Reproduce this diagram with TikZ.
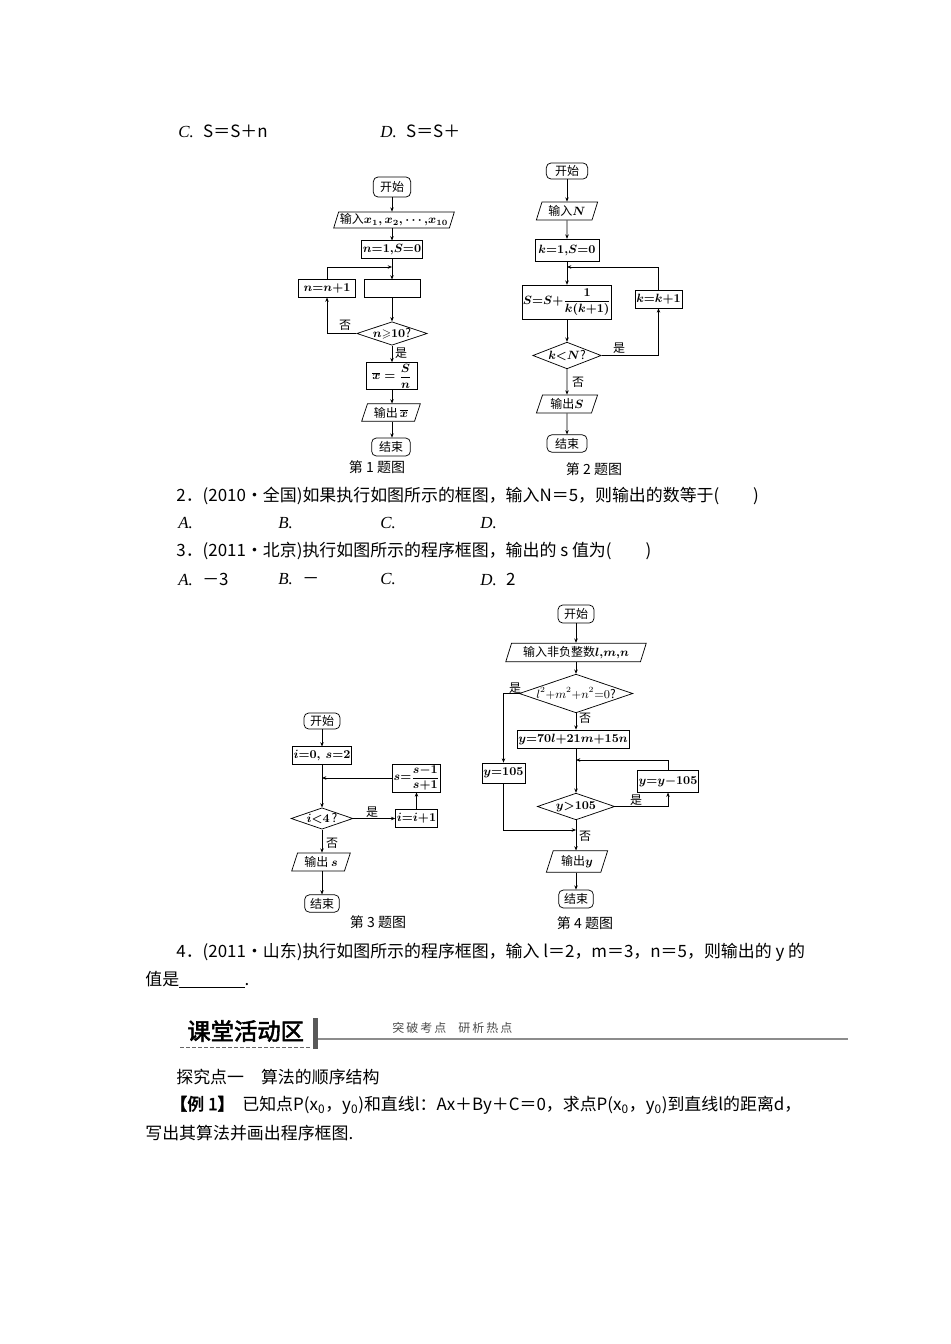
\documentclass[tikz,border=0pt]{standalone}
\usepackage{amsmath, amssymb}
\usepackage{fontspec}
\setmainfont{Liberation Serif}
\newfontfamily\cjk{Noto Sans CJK SC}
\newfontfamily\cjkheavy{Noto Sans CJK SC}[FakeBold=2.5]
\newfontfamily\lat{Liberation Serif}
\usetikzlibrary{shapes.geometric, arrows.meta, calc}
\newcommand{\bodyfont}{\cjk\fontsize{12.7}{15}\selectfont}
\newcommand{\flowfont}{\cjk\fontsize{9}{10}\selectfont\boldmath}
\newcommand{\opt}[1]{{\lat\itshape #1}}

\begin{document}
\begin{tikzpicture}[x=0.75pt, y=-0.75pt, >={Stealth[length=3.2pt,width=2.6pt]}, line width=0.55pt,
    every node/.style={inner sep=1pt, font=\flowfont},
    wh/.style 2 args={minimum width=#1pt, minimum height=#2pt},
    term/.style={draw, rounded corners=3.5pt},
    proc/.style={draw},
    io/.style={draw, trapezium, trapezium left angle=72, trapezium right angle=108, trapezium stretches=true},
    cond/.style={draw, diamond, aspect=3, inner sep=0pt},
    txt/.style={anchor=west, inner sep=0pt, font=\bodyfont},
    figcap/.style={font=\cjk\fontsize{10.5}{12}\selectfont}]
  \useasboundingbox (0,0) rectangle (950,1344);

  % options of question 1
  \node[txt] (optC) at (178,131) {\opt{C.}\hspace{7pt}S＝S＋n};
  \node[txt] (optD) at (380,131) {\opt{D.}\hspace{7pt}S＝S＋};

  % chart 1
  \node[term, wh={28}{15}] (c1start) at (392,187) {开始};
  \node[io, wh={88}{12}] (c1in) at (394,220) {输入$x_1{,}\,x_2{,}\cdots{,}x_{10}$};
  \node[proc, wh={41}{13}] (c1init) at (392,249.5) {$n{=}1{,}S{=}0$};
  \node[proc, wh={43}{13}] (c1inc) at (327,288.5) {$n{=}n{+}1$};
  \node[proc, wh={42}{13}] (c1body) at (392,288.5) {};
  \node[cond, wh={48}{14}] (c1dec) at (392,333.5) {$n{\geqslant}10$?};
  \node[proc, wh={38}{19.5}] (c1mean) at (392,376) {$\overline{x}=\dfrac{S}{n}$};
  \node[io, wh={44}{13}] (c1out) at (391,412.5) {输出\,$\overline{x}$};
  \node[term, wh={29}{13.5}] (c1end) at (391,447) {结束};
  \coordinate (c1join) at (392,267);
  \node (c1no) at (345,325) {否};
  \node (c1yes) at (401,353) {是};
  \foreach \a/\b in {c1start/c1in, c1in/c1init, c1init/c1body, c1body/c1dec,
      c1dec/c1mean, c1mean/c1out, c1out/c1end}
    \draw[->] (\a.south -| c1init) -- (\b.north -| c1init);
  \draw[->] (c1dec.west) -| (c1inc.south);
  \draw[->] (c1inc.north) |- (c1join);
  \node[figcap] (cap1) at (377,467) {第 1 题图};

  % chart 2
  \node[term, wh={31}{12}] (c2start) at (567,171) {开始};
  \node[io, wh={46}{13.5}] (c2in) at (567,211) {输入$N$};
  \node[proc, wh={48}{17}] (c2init) at (567,250.5) {$k{=}1{,}S{=}0$};
  \node[proc, wh={61}{26}, inner xsep=0.5pt] (c2sum) at (567,302.5) {$S{=}S{+}\dfrac{1}{k(k{+}1)}$};
  \node[proc, wh={35}{13.5}] (c2inc) at (658.5,299) {$k{=}k{+}1$};
  \node[cond, wh={48}{20}] (c2dec) at (567,355.5) {$k{<}N$?};
  \node[io, wh={46}{13.5}] (c2out) at (567,404) {输出$S$};
  \node[term, wh={30}{13}] (c2end) at (567,443.5) {结束};
  \coordinate (c2join) at (567,267);
  \node (c2yes) at (619,348) {是};
  \node (c2no) at (578,382) {否};
  \foreach \a/\b in {c2start/c2in, c2in/c2init, c2init/c2sum, c2sum/c2dec,
      c2dec/c2out, c2out/c2end}
    \draw[->] (\a) -- (\b);
  \draw[->] (c2dec.east) -| (c2inc.south);
  \draw[->] (c2inc.north) |- (c2join);
  \node[figcap] (cap2) at (594,469) {第 2 题图};

  % question texts
  \node[txt] (q2) at (176,496) {2．(2010·全国)如果执行如图所示的框图，输入N＝5，则输出的数等于(\hspace{2em})};
  \node[txt] (q2a) at (178,523) {\opt{A.}};
  \node[txt] (q2b) at (278,523) {\opt{B.}};
  \node[txt] (q2c) at (380,523) {\opt{C.}};
  \node[txt] (q2d) at (480,523) {\opt{D.}};
  \node[txt] (q3) at (176,551) {3．(2011·北京)执行如图所示的程序框图，输出的 s 值为(\hspace{2em})};
  \node[txt] (q3a) at (178,579) {\opt{A.}\hspace{7pt}－3};
  \node[txt] (q3b) at (278,579) {\opt{B.}\hspace{7pt}－};
  \node[txt] (q3c) at (380,579) {\opt{C.}};
  \node[txt] (q3d) at (480,579) {\opt{D.}\hspace{7pt}2};

  % chart 3
  \node[term, wh={27}{12}] (c3start) at (322,721) {开始};
  \node[proc, wh={42}{13}] (c3init) at (322,755.5) {$i{=}0,\ s{=}2$};
  \node[proc, wh={33}{21}] (c3upd) at (416.5,778) {$s{=}\dfrac{s{-}1}{s{+}1}$};
  \node[cond, wh={43.5}{16}] (c3dec) at (322,818.5) {$i{<}4$\,?};
  \node[proc, wh={30}{14}] (c3inc) at (416.5,818.5) {$i{=}i{+}1$};
  \node[io, wh={44}{13.5}] (c3out) at (321,862) {输出\ $s$};
  \node[term, wh={26}{13}] (c3end) at (322,903.5) {结束};
  \coordinate (c3join) at (322,778);
  \node (c3yes) at (372,812) {是};
  \node (c3no) at (332,843) {否};
  \foreach \a/\b in {c3start/c3init, c3init/c3dec, c3dec/c3out, c3out/c3end}
    \draw[->] (\a.south -| c3init) -- (\b.north -| c3init);
  \draw[->] (c3dec) -- (c3inc);
  \draw[->] (c3inc) -- (c3upd);
  \draw[->] (c3upd.west) -- (c3join);
  \node[figcap] (cap3) at (378,922) {第 3 题图};

  % chart 4
  \node[term, wh={27}{13.5}] (c4start) at (576,614) {开始};
  \node[io, wh={106}{14}] (c4in) at (576,652.5) {输入非负整数$l{,}m{,}n$};
  \node[cond, wh={80}{29}, font=\cjk\fontsize{9}{10}\selectfont] (c4zero) at (576,693.5) {$l^2{+}m^2{+}n^2{=}0$?};
  \node[proc, wh={70.5}{13.5}] (c4calc) at (573,739) {$y{=}70l{+}21m{+}15n$};
  \node[proc, wh={32}{15}] (c4set) at (503.5,773) {$y{=}105$};
  \node[proc, wh={43.5}{16}] (c4sub) at (668,781.5) {$y{=}y{-}105$};
  \node[cond, wh={58}{20}] (c4big) at (576,806.5) {$y{>}105$};
  \node[io, wh={46}{16}] (c4out) at (577,861.5) {输出$y$};
  \node[term, wh={26}{13.5}] (c4end) at (576,899) {结束};
  \coordinate (c4loop) at (576,760);
  \coordinate (c4merge) at (576,830);
  \node (c4yes) at (515,688) {是};
  \node (c4no) at (585,718) {否};
  \node (c4yes2) at (636,800) {是};
  \node (c4no2) at (585,836) {否};
  \foreach \a/\b in {c4start/c4in, c4in/c4zero, c4zero/c4calc, c4calc/c4big,
      c4big/c4out, c4out/c4end}
    \draw[->] (\a.south -| c4start) -- (\b.north -| c4start);
  \draw[->] (c4zero.west) -| (c4set.north);
  \draw[->] (c4big.east) -| (c4sub.south);
  \draw[->] (c4sub.north) |- (c4loop);
  \draw[->] (c4set.south) |- (c4merge);
  \node[figcap] (cap4) at (585,923) {第 4 题图};

  % question 4
  \node[txt] (q4) at (176,952) {4．(2011·山东)执行如图所示的程序框图，输入 l＝2，m＝3，n＝5，则输出的 y 的};
  \node[txt] (q4b) at (145,980) {值是\underline{\hspace{49pt}}.};

  % banner
  \node[anchor=west, inner sep=0pt, font=\cjkheavy\fontsize{17.5}{20}\selectfont] (banner) at (187,1031) {课堂活动区};
  \draw[black!60, dash pattern=on 3pt off 1.5pt] (180,1047) -- (310,1047);
  \fill[black!65] (313,1018) rectangle (318,1049);
  \draw[black!45, line width=1.4pt] (318,1039) -- (848,1039);
  \node[anchor=west, inner sep=0pt, text=black!70, font=\cjk\fontsize{9}{10}\selectfont] (bannersub) at (392,1028)
    {突\,破\,考\,点\quad 研\,析\,热\,点};

  % example 1
  \node[txt] (sec) at (176,1077) {探究点一\hspace{1em}算法的顺序结构};
  \node[txt] (ex1) at (170,1105) {{\cjkheavy 【例 1】}\hspace{6pt}已知点P(x\textsubscript{0}，y\textsubscript{0})和直线l：Ax＋By＋C＝0，求点P(x\textsubscript{0}，y\textsubscript{0})到直线l的距离d，};
  \node[txt] (ex1b) at (145,1133) {写出其算法并画出程序框图.};
\end{tikzpicture}
\end{document}
